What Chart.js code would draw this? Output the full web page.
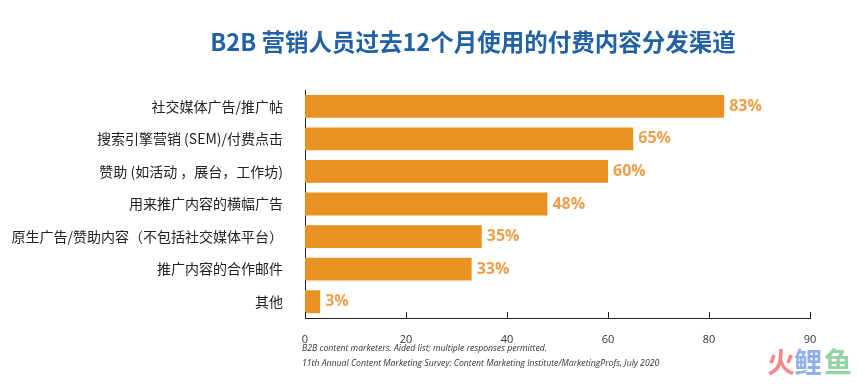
<!DOCTYPE html>
<html lang="zh">
<head>
    <meta charset="UTF-8">
    <script src="https://cdn.jsdelivr.net/npm/chart.js"></script>
    <title>付费内容分发渠道</title>
    <style>
        body { margin: 0; background: #fff; }
        #wrap { width: 865px; height: 384px; }
    </style>
</head>
<body>
    <div id="wrap"><canvas id="barChart"></canvas></div>

    <script>
        // data
        const channels = [
            '社交媒体广告/推广帖',
            '搜索引擎营销 (SEM)/付费点击',
            '赞助 (如活动 ，展台，工作坊)',
            '用来推广内容的横幅广告',
            '原生广告/赞助内容（不包括社交媒体平台）',
            '推广内容的合作邮件',
            '其他'
        ];
        const percents = [83, 65, 60, 48, 35, 33, 3];
        const tickLabels = ['0', '20', '40', '60', '80', '90'];

        const titleText = 'B2B 营销人员过去12个月使用的付费内容分发渠道';
        const notes = [
            'B2B content marketers. Aided list; multiple responses permitted.',
            '11th Annual Content Marketing Survey: Content Marketing Institute/MarketingProfs, July 2020'
        ];

        const cjk = '"Noto Sans CJK SC", "Noto Sans", sans-serif';

        // title, footnotes, value labels and upward tick marks
        const decor = {
            id: 'decor',
            afterDraw(chart) {
                const ctx = chart.ctx;
                const x = chart.scales.x;
                const area = chart.chartArea;
                ctx.save();

                ctx.fillStyle = '#2261a3';
                ctx.font = 'bold 23.5px ' + cjk;
                ctx.textAlign = 'center';
                ctx.textBaseline = 'middle';
                ctx.fillText(titleText, 473, 42);

                // small ticks pointing up from the axis
                ctx.strokeStyle = '#222';
                ctx.lineWidth = 1;
                x.ticks.forEach(t => {
                    const px = Math.round(x.getPixelForValue(t.value)) + 0.5;
                    ctx.beginPath();
                    ctx.moveTo(px, area.bottom);
                    ctx.lineTo(px, area.bottom - 6);
                    ctx.stroke();
                });

                // value labels
                const meta = chart.getDatasetMeta(0);
                ctx.fillStyle = '#eda04a';
                ctx.font = 'bold 16px "Open Sans", sans-serif';
                ctx.textAlign = 'left';
                meta.data.forEach((bar, i) => {
                    ctx.fillText(percents[i] + '%', bar.x + 5, bar.y);
                });

                ctx.fillStyle = '#333';
                ctx.font = 'italic 8.7px "Open Sans", sans-serif';
                ctx.fillText(notes[0], 302, 349);
                ctx.fillText(notes[1], 302, 364);

                // logo
                ctx.textAlign = 'center';
                ctx.font = 'bold 28px ' + cjk;
                ctx.fillStyle = '#f4898a';
                ctx.fillText('火', 781, 362);
                ctx.fillStyle = '#8fb0ea';
                ctx.fillText('鲤', 808, 362);
                ctx.fillStyle = '#94d3a4';
                ctx.fillText('鱼', 838, 362);
                ctx.restore();
            }
        };

        const ctx = document.getElementById('barChart').getContext('2d');
        new Chart(ctx, {
            type: 'bar',
            data: {
                labels: channels,
                datasets: [{
                    data: percents,
                    backgroundColor: '#e99223',
                    barPercentage: 0.7,
                    categoryPercentage: 1
                }]
            },
            options: {
                indexAxis: 'y',
                responsive: true,
                maintainAspectRatio: false,
                animation: false,
                layout: { padding: { top: 90, right: 55, bottom: 0, left: 0 } },
                plugins: {
                    legend: { display: false },
                    tooltip: { enabled: false }
                },
                scales: {
                    x: {
                        min: 0,
                        max: 100,
                        afterBuildTicks: s => {
                            s.ticks = [0, 20, 40, 60, 80, 100].map(v => ({ value: v }));
                        },
                        afterFit: s => { s.height = 66; },
                        grid: { display: false },
                        border: { display: true, color: '#222', width: 1 },
                        ticks: {
                            color: '#333',
                            padding: 7,
                            font: { size: 11, family: '"Open Sans", sans-serif' },
                            callback: (v, i) => tickLabels[i]
                        }
                    },
                    y: {
                        afterFit: s => { s.width = 305; },
                        grid: { display: false },
                        border: { display: true, color: '#222', width: 1 },
                        ticks: {
                            color: '#222',
                            padding: 14,
                            font: { size: 14, family: cjk }
                        }
                    }
                }
            },
            plugins: [decor]
        });
    </script>
</body>
</html>
